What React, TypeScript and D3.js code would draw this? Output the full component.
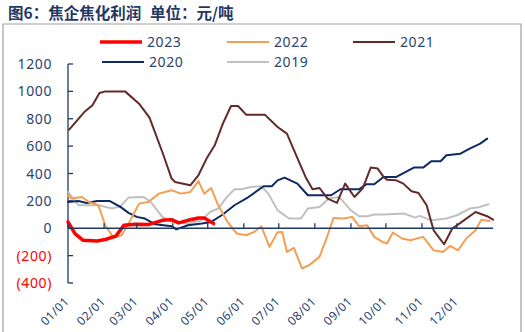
import React from 'react';
import * as d3 from 'd3';

const monthLabels = ['01/01', '02/01', '03/01', '04/01', '05/01', '06/01', '07/01', '08/01', '09/01', '10/01', '11/01', '12/01'];
const monthStarts = [0, 31, 59, 90, 120, 151, 181, 212, 243, 273, 304, 334];
const yTicks = [-400, -200, 0, 200, 400, 600, 800, 1000, 1200];

// [day of year, profit 元/吨]
const d2023: [number, number][] = [
  [0, 46], [6, -39], [13, -88], [25, -93], [32, -82], [41, -58], [48, 22], [58, 29], [69, 27], [81, 58], [89, 63], [95, 39], [103, 58], [112, 75], [117, 75], [125, 34],
];
const d2022: [number, number][] = [
  [0, 240], [3, 217], [12, 228], [18, 192], [26, 168], [32, 22], [39, -68], [46, -51], [52, 34], [61, 180], [69, 192], [78, 253], [89, 277], [97, 253], [105, 265], [112, 345], [117, 253], [123, 294], [129, 168], [137, 46], [145, -39], [153, -51], [160, -27], [166, 15], [173, -136], [180, -30], [184, -27], [188, -173], [194, -144], [201, -294], [207, -270], [216, -209], [223, -51], [228, 75], [237, 71], [244, 83], [250, 15], [257, 22], [263, -63], [270, -100], [274, -112], [279, -31], [287, -75], [294, -88], [305, -63], [314, -161], [322, -173], [328, -129], [335, -161], [342, -75], [350, -15], [355, 63], [362, 53],
];
const d2021: [number, number][] = [
  [1, 720], [14, 849], [21, 898], [27, 988], [32, 1000], [49, 1000], [61, 910], [70, 808], [81, 557], [89, 363], [92, 338], [105, 314], [112, 387], [119, 509], [126, 606], [133, 764], [140, 893], [146, 893], [153, 830], [169, 830], [180, 740], [188, 691], [196, 533], [204, 375], [210, 285], [216, 294], [223, 217], [231, 185], [238, 326], [246, 228], [253, 290], [260, 443], [266, 436], [271, 375], [274, 355], [282, 350], [288, 326], [295, 270], [301, 258], [308, 168], [314, -15], [323, -117], [330, -2], [337, 39], [350, 119], [360, 88], [365, 63],
];
const d2020: [number, number][] = [
  [0, 192], [9, 199], [16, 185], [25, 199], [36, 199], [45, 156], [52, 112], [59, 83], [66, 71], [75, 29], [89, 15], [93, -8], [103, 22], [115, 34], [123, 46], [132, 95], [143, 168], [155, 228], [168, 307], [175, 307], [180, 350], [186, 370], [197, 326], [206, 241], [226, 241], [234, 285], [250, 285], [256, 321], [263, 321], [271, 375], [282, 375], [297, 443], [305, 443], [312, 489], [320, 489], [325, 533], [337, 545], [345, 582], [354, 618], [360, 655],
];
const d2019: [number, number][] = [
  [0, 265], [9, 168], [26, 168], [38, 144], [45, 161], [52, 224], [65, 228], [71, 192], [81, 83], [89, 46], [103, 34], [115, 58], [122, 119], [129, 144], [136, 224], [143, 285], [149, 285], [157, 302], [166, 307], [172, 253], [180, 131], [183, 112], [190, 71], [200, 71], [206, 144], [216, 156], [224, 217], [233, 228], [243, 131], [250, 88], [257, 88], [263, 100], [271, 100], [289, 107], [298, 78], [302, 90], [312, 58], [325, 71], [334, 95], [345, 144], [354, 156], [361, 175],
];

const seriesNames = ['2023', '2022', '2021', '2020', '2019'];
const seriesData = [d2023, d2022, d2021, d2020, d2019];
const seriesColors = ['#FF0000', '#F59E52', '#632A2A', '#0E2A63', '#C0C0C0'];
const seriesWidths = [3.5, 2, 2, 2, 2];

const NAVY = '#1F3864';
const TXT = '#2B4470';
const FONT = '"Noto Sans", "Liberation Sans", sans-serif';
const TITLE_FONT = '"Noto Sans CJK SC", sans-serif';

export default function App() {
  const x = d3.scaleLinear().domain([0, 365]).range([68, 493]);
  const y = d3.scaleLinear().domain([-400, 1200]).range([283, 64]);
  const line = d3.line<[number, number]>().x(d => x(d[0])).y(d => y(d[1]));
  const fmt = (v: number) => (v < 0 ? `(${-v})` : `${v}`);
  const legendPos = [
    [100, 42], [227, 42], [353, 42], [102, 62], [227, 62],
  ];
  const drawOrder = [4, 3, 2, 1, 0];
  return (
    <svg width={525} height={332} style={{ position: 'absolute', left: 0, top: 0, background: '#fff' }}>
      <rect x={0} y={0} width={525} height={332} fill="#fff" />
      <text x={8} y={19} fontFamily={TITLE_FONT} fontWeight="bold" fontSize={15.5} fill={NAVY}>
        图6：焦企焦化利润
      </text>
      <text x={150} y={19} fontFamily={TITLE_FONT} fontWeight="bold" fontSize={15.5} fill={NAVY}>
        单位：元/吨
      </text>
      <path d="M3,340 V24 H521 V340" fill="none" stroke="#A0A0A0" strokeWidth={1.2} />
      {/* legend */}
      {seriesNames.map((n, i) => (
        <g key={n}>
          <line x1={legendPos[i][0]} x2={legendPos[i][0] + 42} y1={legendPos[i][1]} y2={legendPos[i][1]}
            stroke={seriesColors[i]} strokeWidth={seriesWidths[i] === 2 ? 2 : 3.5} />
          <text x={legendPos[i][0] + 47} y={legendPos[i][1] + 5} fontFamily={FONT} fontSize={14} letterSpacing={0.6} fill={TXT}>{n}</text>
        </g>
      ))}
      {/* y axis */}
      <line x1={68} x2={68} y1={y(1200)} y2={y(-400)} stroke={NAVY} strokeWidth={1.3} />
      {yTicks.map(v => (
        <g key={v}>
          <line x1={68} x2={73} y1={y(v)} y2={y(v)} stroke={NAVY} strokeWidth={1.3} />
          <text x={52} y={y(v) + 5} textAnchor="end" fontFamily={FONT} fontSize={14} letterSpacing={0.6}
            fill={v < 0 ? '#FF0000' : TXT}>{fmt(v)}</text>
        </g>
      ))}
      {/* series */}
      {drawOrder.map(i => (
        <path key={seriesNames[i]} d={line(seriesData[i]) || ''} fill="none" stroke={seriesColors[i]}
          strokeWidth={seriesWidths[i]} strokeLinejoin="round" strokeLinecap="round" />
      ))}
      {/* x axis */}
      <line x1={x(0)} x2={x(365)} y1={y(0)} y2={y(0)} stroke={NAVY} strokeWidth={1.3} />
      {monthStarts.map((m, i) => (
        <g key={m}>
          <line x1={x(m)} x2={x(m)} y1={y(0)} y2={y(0) - 5} stroke={NAVY} strokeWidth={1.3} />
          <text transform={`translate(${x(m) + 2},${302}) rotate(-45)`} textAnchor="end" fontFamily={FONT}
            fontSize={12} letterSpacing={0.5} fill={TXT}>{monthLabels[i]}</text>
        </g>
      ))}
    </svg>
  );
}
